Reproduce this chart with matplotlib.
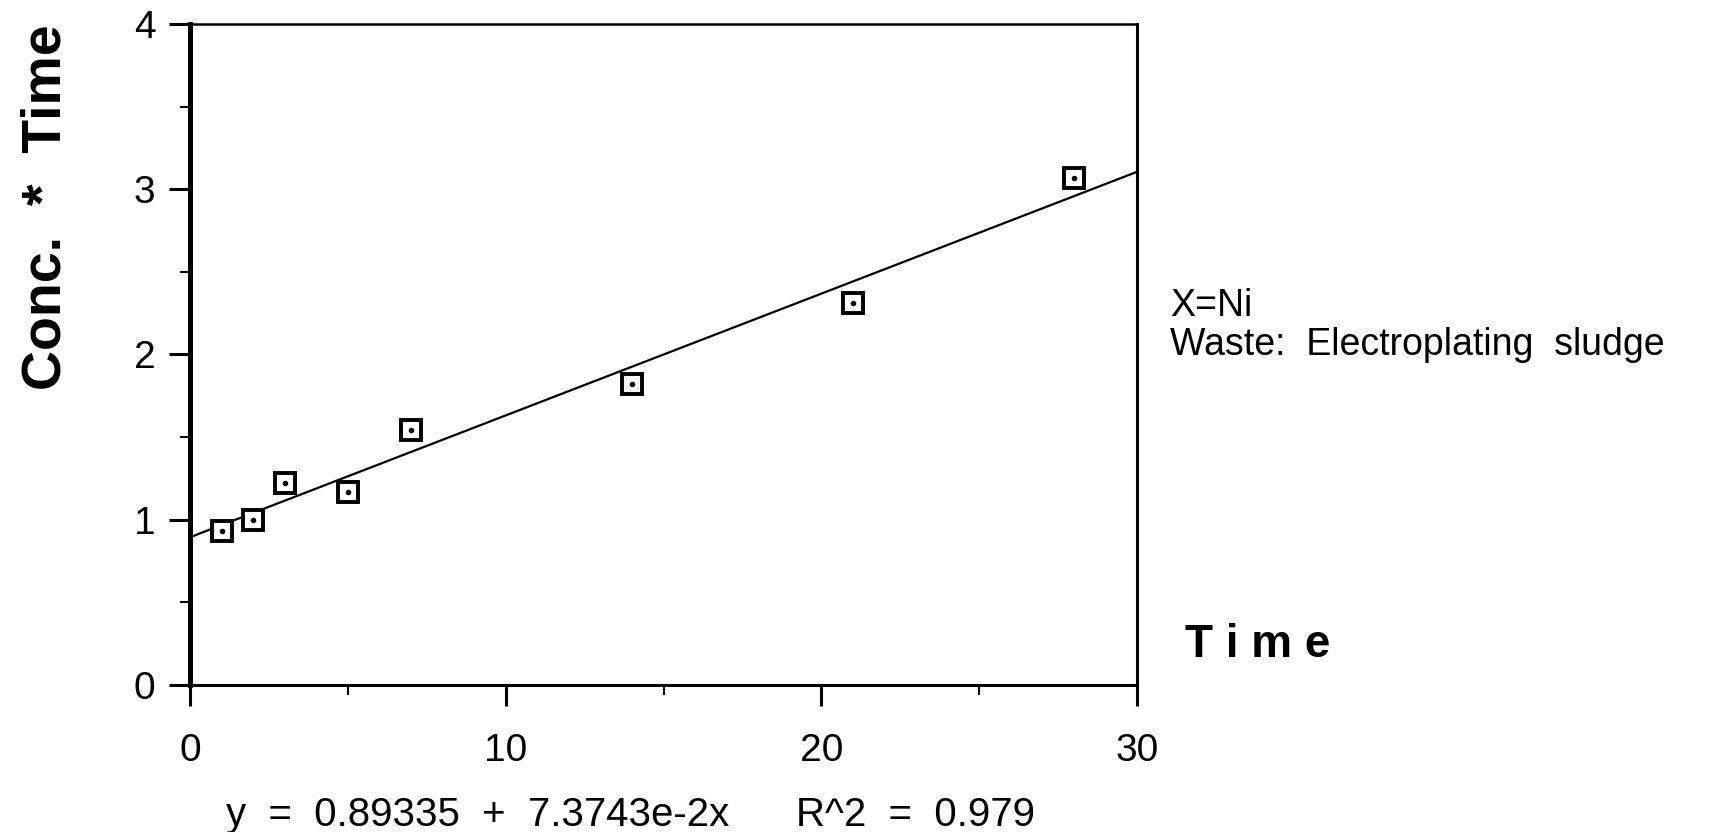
import numpy as np
import matplotlib
matplotlib.use("Agg")
import matplotlib.pyplot as plt
from matplotlib.ticker import MultipleLocator

plt.rcParams['font.family'] = ['Liberation Sans', 'DejaVu Sans']

# data
time_days = [1, 2, 3, 5, 7, 14, 21, 28]
conc_time = [0.93, 1.00, 1.22, 1.17, 1.54, 1.82, 2.31, 3.07]

# regression line as printed under the chart
intercept = 0.89335
slope = 7.3743e-2
x_ticks = [0, 10, 20, 30]
y_ticks = [0, 1, 2, 3, 4]

fig = plt.figure(figsize=(17.28, 8.32), dpi=100)
ax = fig.add_axes([0.110, 0.177, 0.548, 0.794])

line_x = np.array([0, 30])
ax.plot(line_x, intercept + slope * line_x, color='black', lw=1.6)

# square markers with a dot in the middle
ax.plot(time_days, conc_time, 's', ms=14, mfc='white', mec='black', mew=2.8, ls='none')
ax.plot(time_days, conc_time, 'o', ms=3, color='black', ls='none')

ax.set_xlim(0, 30)
ax.set_ylim(0, 4)
ax.set_xticks(x_ticks)
ax.set_yticks(y_ticks)
ax.xaxis.set_minor_locator(MultipleLocator(5))
ax.yaxis.set_minor_locator(MultipleLocator(0.5))
ax.tick_params(axis='both', which='major', direction='out', length=15, width=2.2,
               labelsize=28)
ax.tick_params(axis='x', which='major', pad=20)
ax.tick_params(axis='y', which='major', pad=10)
ax.tick_params(axis='both', which='minor', direction='out', length=7, width=1.5)
ax.tick_params(top=False, right=False)

ax.spines['left'].set_linewidth(3.6)
ax.spines['bottom'].set_linewidth(2.2)
ax.spines['top'].set_linewidth(1.8)
ax.spines['right'].set_linewidth(2.2)

fig.text(0.027, 0.751, 'Conc.  *  Time', rotation=90, fontsize=40, fontweight='bold',
         ha='center', va='center')
fig.text(0.686, 0.225, 'T i m e', fontsize=33, fontweight='bold', ha='left', va='center')

fig.text(0.677, 0.632, 'X=Ni', fontsize=27, ha='left', va='center')
fig.text(0.677, 0.585, 'Waste:  Electroplating  sludge', fontsize=27, ha='left', va='center')

fig.text(0.131, 0.020, 'y  =  0.89335  +  7.3743e-2x      R^2  =  0.979', fontsize=29,
         ha='left', va='center')

fig.savefig('out.png', dpi=100, facecolor='white')
